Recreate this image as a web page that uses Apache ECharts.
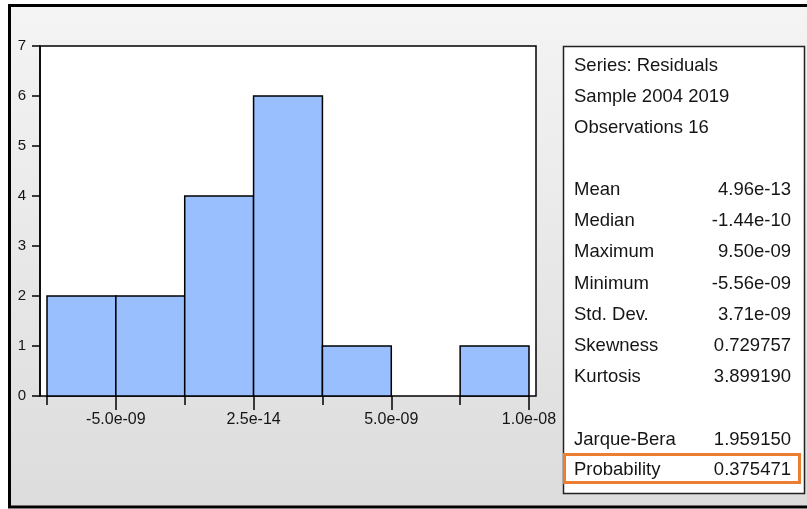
<!DOCTYPE html>
<html>
<head>
<meta charset="utf-8">
<script src="https://cdn.jsdelivr.net/npm/echarts@6/dist/echarts.min.js"></script>
<style>
  html, body { margin: 0; padding: 0; background: #ffffff; }
  #chart { width: 807px; height: 509px; }
</style>
</head>
<body>
<div id="chart"></div>
<script>
// Data (x in units of 1e-9)
var binEdges = [-7.5, -5, -2.5, 0, 2.5, 5, 7.5, 10];
var binCounts = [2, 2, 4, 6, 1, 0, 1];
var xTickValues = [-5, 0, 5, 10];
var xTickLabels = ['-5.0e-09', '2.5e-14', '5.0e-09', '1.0e-08'];
var yTicks = [0, 1, 2, 3, 4, 5, 6, 7];

var headerLines = ['Series: Residuals', 'Sample 2004 2019', 'Observations 16'];
var statNames = ['Mean', 'Median', 'Maximum', 'Minimum', 'Std. Dev.', 'Skewness', 'Kurtosis'];
var statValues = ['4.96e-13', '-1.44e-10', '9.50e-09', '-5.56e-09', '3.71e-09', '0.729757', '3.899190'];
var testNames = ['Jarque-Bera', 'Probability'];
var testValues = ['1.959150', '0.375471'];

var bars = binCounts.map(function (c, i) { return [binEdges[i], binEdges[i + 1], c]; });

var FONT = '"Liberation Sans", Arial, sans-serif';
var txtColor = '#151515';

var graphics = [];
// outer panel
graphics.push({
  type: 'rect', z: -10, silent: true,
  shape: { x: 9.5, y: 5.5, width: 810, height: 501.5 },
  style: {
    fill: new echarts.graphic.LinearGradient(0, 0, 0, 1, [
      { offset: 0, color: '#f4f4f4' }, { offset: 1, color: '#dcdcdc' }
    ]),
    stroke: '#000', lineWidth: 3
  }
});
// stats box
graphics.push({
  type: 'rect', z: 5, silent: true,
  shape: { x: 563.5, y: 46.5, width: 241, height: 447 },
  style: { fill: '#ffffff', stroke: '#222', lineWidth: 1.5 }
});
function addText(str, x, y, align) {
  graphics.push({
    type: 'text', z: 6, silent: true, x: x, y: y,
    style: { text: str, fill: txtColor, font: '18.5px ' + FONT, align: align, verticalAlign: 'middle' }
  });
}
var headerY = [66, 97, 128];
headerLines.forEach(function (s, i) { addText(s, 574, headerY[i], 'left'); });
var statY0 = 190, rowH = 31.2;
statNames.forEach(function (s, i) {
  addText(s, 574, statY0 + i * rowH, 'left');
  addText(statValues[i], 791, statY0 + i * rowH, 'right');
});
var testY = [440, 470];
testNames.forEach(function (s, i) {
  addText(s, 574, testY[i], 'left');
  addText(testValues[i], 791, testY[i], 'right');
});
// highlight around Probability row
graphics.push({
  type: 'rect', z: 7, silent: true,
  shape: { x: 564.5, y: 454.5, width: 235, height: 28 },
  style: { fill: 'none', stroke: '#ED7D31', lineWidth: 3 }
});

var chart = echarts.init(document.getElementById('chart'), null, { renderer: 'canvas' });
chart.setOption({
  animation: false,
  backgroundColor: 'transparent',
  graphic: graphics,
  grid: [
    { left: 40, top: 46, width: 496, height: 350, show: true, backgroundColor: '#ffffff', borderColor: '#000', borderWidth: 1.5, z: 0 },
    { left: 47, top: 46, width: 482, height: 350, show: false }
  ],
  xAxis: [
    { gridIndex: 0, type: 'value', min: 0, max: 1, show: false },
    {
      gridIndex: 1, type: 'value', min: -7.5, max: 10, position: 'bottom',
      axisLine: { show: false }, splitLine: { show: false },
      axisTick: { show: true, customValues: binEdges, length: 9, lineStyle: { color: '#000', width: 1.5 } },
      axisLabel: { show: false }
    },
    {
      gridIndex: 1, type: 'value', min: -7.5, max: 10, position: 'bottom',
      axisLine: { show: false }, splitLine: { show: false },
      axisTick: { show: true, customValues: xTickValues, length: 14, lineStyle: { color: '#000', width: 1.5 } },
      axisLabel: {
        show: true, customValues: xTickValues, margin: 16,
        color: txtColor, fontFamily: FONT, fontSize: 16,
        formatter: function (v) {
          var idx = xTickValues.indexOf(v);
          return idx >= 0 ? xTickLabels[idx] : '';
        }
      }
    }
  ],
  yAxis: [
    {
      gridIndex: 0, type: 'value', min: yTicks[0], max: yTicks[yTicks.length - 1], interval: 1,
      axisLine: { show: true, lineStyle: { color: '#000', width: 1.5 } },
      axisTick: { show: true, length: 8, lineStyle: { color: '#000', width: 1.5 } },
      splitLine: { show: false },
      axisLabel: { margin: 14, color: txtColor, fontFamily: FONT, fontSize: 15 }
    },
    { gridIndex: 1, type: 'value', min: 0, max: 7, show: false }
  ],
  series: [{
    type: 'custom',
    xAxisIndex: 1, yAxisIndex: 1,
    data: bars,
    z: 3,
    renderItem: function (params, api) {
      var p0 = api.coord([api.value(0), api.value(2)]);
      var p1 = api.coord([api.value(1), 0]);
      if (api.value(2) <= 0) return null;
      return {
        type: 'rect',
        shape: { x: p0[0], y: p0[1], width: p1[0] - p0[0], height: p1[1] - p0[1] },
        style: { fill: '#99bfff', stroke: '#000', lineWidth: 1.5 }
      };
    }
  }]
});
</script>
</body>
</html>
